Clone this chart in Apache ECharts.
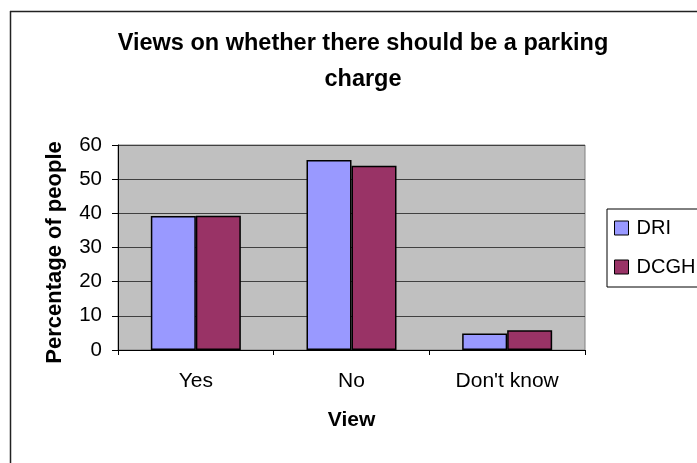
<!DOCTYPE html>
<html>
<head>
<meta charset="utf-8">
<script src="https://cdn.jsdelivr.net/npm/echarts@6/dist/echarts.min.js"></script>
<style>html,body{margin:0;padding:0;background:#fff;}#c{width:697px;height:463px;}</style>
</head>
<body>
<div id="c"></div>
<script>
const categories = ["Yes", "No", "Don't know"];
const seriesNames = ["DRI", "DCGH"];
const dri = [39.2, 55.6, 4.8];
const dcgh = [39.3, 53.9, 5.8];
const yTicks = [0, 10, 20, 30, 40, 50, 60];

const FONT = '"Liberation Sans", Arial, sans-serif';
const chart = echarts.init(document.getElementById('c'), null, {renderer: 'canvas'});
chart.setOption({
  animation: false,
  backgroundColor: '#ffffff',
  title: {
    text: 'Views on whether there should be a parking\ncharge',
    left: 358, top: 21, textAlign: 'center',
    textStyle: {fontFamily: FONT, fontWeight: 'bold', fontSize: 23.5, lineHeight: 36, color: '#000'}
  },
  legend: {
    orient: 'vertical', left: 607, top: 209,
    padding: [9, 40, 10, 7], itemGap: 19,
    borderColor: '#000', borderWidth: 1,
    itemWidth: 14, itemHeight: 14, icon: 'rect',
    textStyle: {fontFamily: FONT, fontSize: 20, color: '#000', lineHeight: 20, padding: [0, 0, 0, 3]},
    data: seriesNames.map(n => ({name: n, itemStyle: {borderColor: '#000', borderWidth: 1}}))
  },
  grid: {
    left: 118, right: 112, top: 145, bottom: 113,
    show: true, backgroundColor: '#C0C0C0', borderColor: '#808080', borderWidth: 1
  },
  xAxis: {
    type: 'category', data: categories,
    name: 'View', nameLocation: 'middle', nameGap: 60,
    nameTextStyle: {fontFamily: FONT, fontWeight: 'bold', fontSize: 21, color: '#000'},
    axisLine: {lineStyle: {color: '#000', width: 1}},
    axisTick: {show: true, length: 5, lineStyle: {color: '#000'}},
    axisLabel: {fontFamily: FONT, fontSize: 21, color: '#000', margin: 21}
  },
  yAxis: {
    type: 'value', min: yTicks[0], max: yTicks[yTicks.length - 1], interval: 10,
    name: 'Percentage of people', nameLocation: 'middle', nameGap: 52, nameRotate: 90,
    nameTextStyle: {fontFamily: FONT, fontWeight: 'bold', fontSize: 22, color: '#000', padding: [0, 10, 0, 0]},
    axisLine: {show: true, lineStyle: {color: '#000', width: 1}},
    axisTick: {show: true, length: 6, lineStyle: {color: '#000'}},
    axisLabel: {fontFamily: FONT, fontSize: 20.5, color: '#000', margin: 16},
    splitLine: {show: true, lineStyle: {color: '#404040', width: 1}}
  },
  series: [
    {name: seriesNames[0], type: 'bar', data: dri, barWidth: 45, barGap: '0%',
     itemStyle: {color: '#9999FF', borderColor: '#000', borderWidth: 1.5}},
    {name: seriesNames[1], type: 'bar', data: dcgh, barWidth: 45, barGap: '0%',
     itemStyle: {color: '#993366', borderColor: '#000', borderWidth: 1.5}}
  ],
  graphic: [
    {type: 'line', shape: {x1: 10.5, y1: 11, x2: 10.5, y2: 463}, style: {stroke: '#222', lineWidth: 1.5}},
    {type: 'line', shape: {x1: 10, y1: 11.5, x2: 697, y2: 11.5}, style: {stroke: '#222', lineWidth: 1.5}}
  ]
});
</script>
</body>
</html>
